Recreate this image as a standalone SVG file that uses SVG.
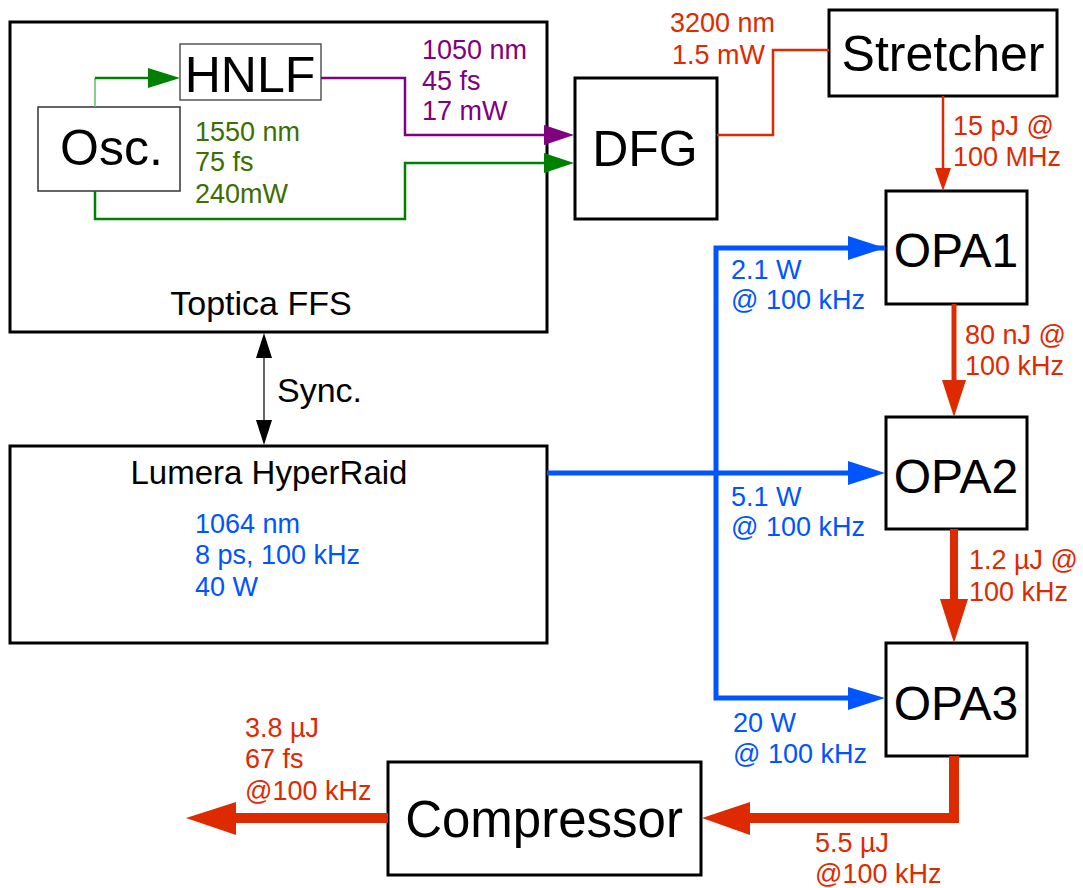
<svg xmlns="http://www.w3.org/2000/svg" width="1083" height="888" viewBox="0 0 1083 888">
<style>
text{font-family:"Liberation Sans",Arial,sans-serif}
.box{fill:#fff;stroke:#000;stroke-width:3}
.thin{fill:#fff;stroke:#333;stroke-width:1.5}
.big{font-size:50px;fill:#000}
.mid{font-size:34px;fill:#000}
.lbl{font-size:27px}
.red{fill:#de2a00}
.blue{fill:#0055ff}
.purple{fill:#800080}
.green{fill:#3c6e00}
.gf{fill:#008000}
.ln{fill:none;stroke-linejoin:miter}
</style>
<rect width="1083" height="888" fill="#fff"/>
<g id="toptica">
<rect class="box" x="10" y="22" width="537" height="310"/>
<text class="mid" x="261" y="315" text-anchor="middle">Toptica FFS</text>
</g>
<g id="osc">
<rect class="thin" x="38" y="107" width="142" height="84"/>
<text class="big" x="60" y="165">Osc.</text>
</g>
<g id="hnlf">
<rect class="thin" x="180" y="44" width="141" height="56" style="stroke:#555"/>
<text class="big" x="250" y="92" text-anchor="middle">HNLF</text>
</g>
<g id="dfg">
<rect class="box" x="575" y="78" width="142" height="141"/>
<text class="big" x="645" y="166" text-anchor="middle">DFG</text>
</g>
<g id="stretcher">
<rect class="box" x="829" y="10" width="228" height="86"/>
<text class="big" x="943" y="71" text-anchor="middle">Stretcher</text>
</g>
<g id="opa1">
<rect class="box" x="886" y="191" width="141" height="113"/>
<text class="big" x="956" y="267" text-anchor="middle" style="font-size:48px">OPA1</text>
</g>
<g id="opa2">
<rect class="box" x="886" y="417" width="141" height="112"/>
<text class="big" x="956" y="493" text-anchor="middle" style="font-size:48px">OPA2</text>
</g>
<g id="opa3">
<rect class="box" x="886" y="643" width="141" height="113"/>
<text class="big" x="956" y="720" text-anchor="middle" style="font-size:48px">OPA3</text>
</g>
<g id="lumera">
<rect class="box" x="10" y="446" width="537" height="197"/>
<text class="mid" x="269" y="484" text-anchor="middle" style="font-size:33px">Lumera HyperRaid</text>
<text class="lbl blue" x="195" y="533">1064 nm</text>
<text class="lbl blue" x="195" y="564">8 ps, 100 kHz</text>
<text class="lbl blue" x="195" y="596">40 W</text>
</g>
<g id="compressor">
<rect class="box" x="388" y="762" width="313" height="113"/>
<text class="big" x="544" y="837" text-anchor="middle" style="font-size:51px">Compressor</text>
</g>
<g id="connectors">
<path class="ln" d="M95 107V78" stroke="#66bb66" stroke-width="1.5"/>
<path class="ln" d="M95 78H150" stroke="#008000" stroke-width="2.5"/>
<polygon class="gf" points="148,68 180,78 148,88"/>
<path class="ln" d="M95 191V219H405V163H546" stroke="#008000" stroke-width="2.5"/>
<polygon class="gf" points="544,153 574,163 544,173"/>
<path class="ln" d="M321 78H405V135H546" stroke="#800080" stroke-width="2.5"/>
<polygon class="purple" points="544,125 574,135 544,145"/>
<path class="ln" d="M717 135H773V50H829" stroke="#de2a00" stroke-width="2.5"/>
<path class="ln" d="M943 96V170" stroke="#de2a00" stroke-width="2.5"/>
<polygon class="red" points="935,168 951,168 943,191"/>
<path class="ln" d="M954 304V382" stroke="#de2a00" stroke-width="5"/>
<polygon class="red" points="942,380 966,380 954,417"/>
<path class="ln" d="M954 529V601" stroke="#de2a00" stroke-width="8"/>
<polygon class="red" points="940,599 968,599 954,643"/>
<path class="ln" d="M954 756V818H748" stroke="#de2a00" stroke-width="10"/>
<polygon class="red" points="750,802 702,818 750,835"/>
<path class="ln" d="M388 818H234" stroke="#de2a00" stroke-width="10"/>
<polygon class="red" points="236,802 186,818 236,835"/>
<path class="ln" d="M885 248H716V698H850" stroke="#0055ff" stroke-width="5"/>
<path class="ln" d="M547 473H850" stroke="#0055ff" stroke-width="5"/>
<polygon class="blue" points="848,236 885,248 848,260"/>
<polygon class="blue" points="848,461 885,473 848,485"/>
<polygon class="blue" points="848,687 885,698 848,710"/>
<path class="ln" d="M264 356V422" stroke="#000" stroke-width="1.2"/>
<polygon points="256,358 264,333 272,358" fill="#000"/>
<polygon points="256,420 264,445 272,420" fill="#000"/>
</g>
<g id="labels">
<text class="lbl purple" x="422" y="59">1050 nm</text>
<text class="lbl purple" x="422" y="90">45 fs</text>
<text class="lbl purple" x="422" y="120">17 mW</text>
<text class="lbl green" x="195" y="141">1550 nm</text>
<text class="lbl green" x="195" y="171">75 fs</text>
<text class="lbl green" x="195" y="203">240mW</text>
<text class="lbl red" x="670" y="32">3200 nm</text>
<text class="lbl red" x="672" y="64">1.5 mW</text>
<text class="lbl red" x="953" y="135">15 pJ @</text>
<text class="lbl red" x="953" y="166">100 MHz</text>
<text class="lbl blue" x="731" y="279">2.1 W</text>
<text class="lbl blue" x="731" y="309">@ 100 kHz</text>
<text class="lbl red" x="965" y="344">80 nJ @</text>
<text class="lbl red" x="965" y="375">100 kHz</text>
<text class="lbl blue" x="731" y="506">5.1 W</text>
<text class="lbl blue" x="731" y="536">@ 100 kHz</text>
<text class="lbl red" x="969" y="569">1.2 µJ @</text>
<text class="lbl red" x="969" y="601">100 kHz</text>
<text class="lbl blue" x="733" y="732">20 W</text>
<text class="lbl blue" x="733" y="763">@ 100 kHz</text>
<text class="lbl red" x="815" y="852">5.5 µJ</text>
<text class="lbl red" x="815" y="883">@100 kHz</text>
<text class="lbl red" x="245" y="737">3.8 µJ</text>
<text class="lbl red" x="245" y="768">67 fs</text>
<text class="lbl red" x="245" y="800">@100 kHz</text>
<text class="mid" x="277" y="402">Sync.</text>
</g>
</svg>
